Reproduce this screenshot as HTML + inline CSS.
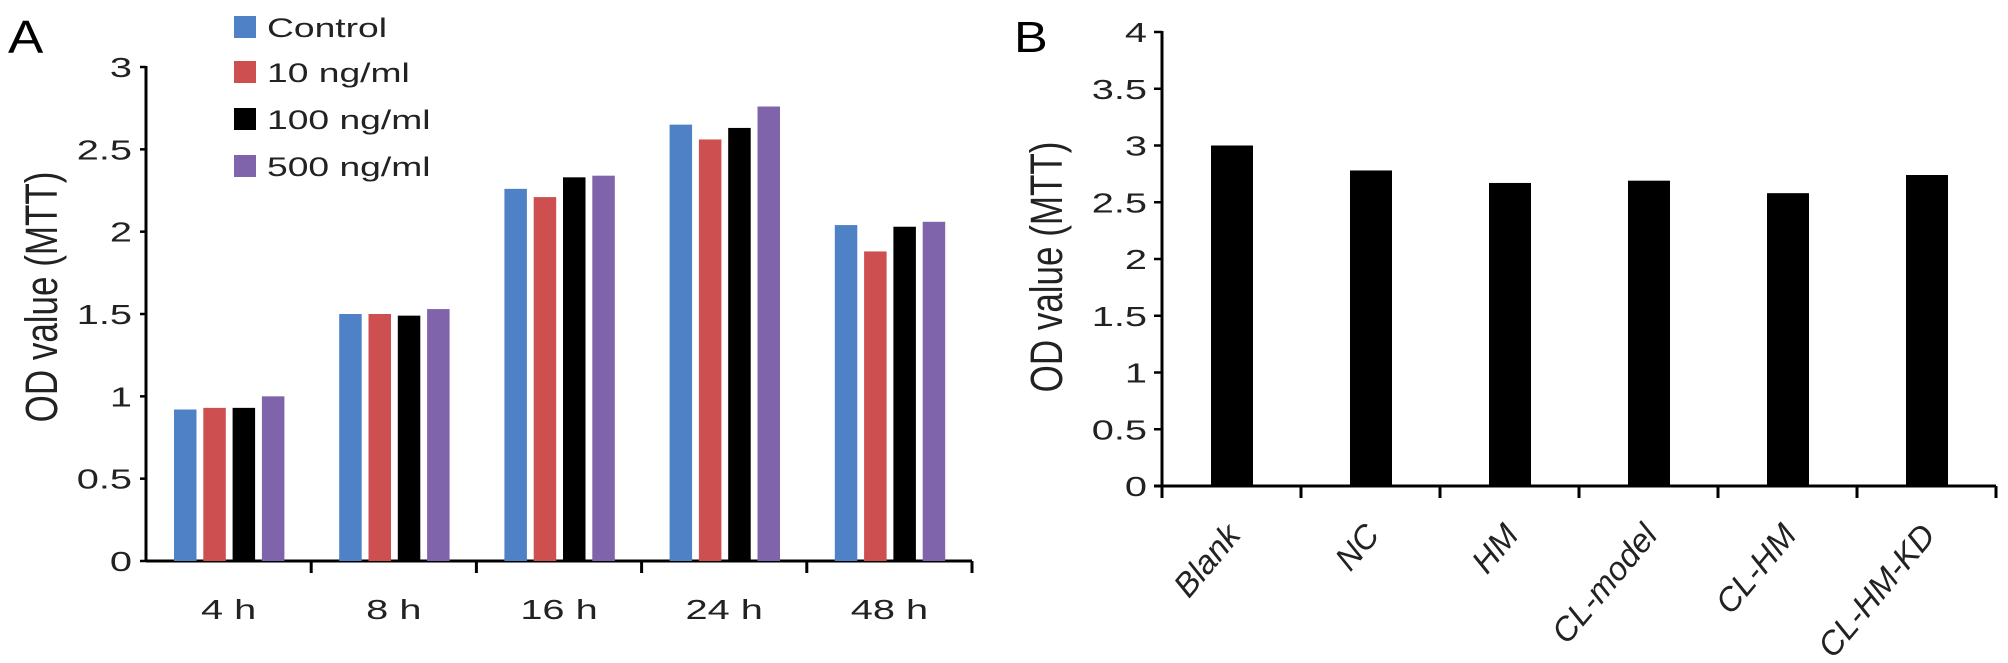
<!DOCTYPE html>
<html><head><meta charset="utf-8"><style>
body{margin:0;background:#fff;}
svg{display:block;font-family:"Liberation Sans",Arial,sans-serif;}
</style></head><body>
<svg id="chart" width="2008" height="663" viewBox="0 0 2008 663" xmlns="http://www.w3.org/2000/svg">
<text transform="translate(8,53) scale(1.15,1)" font-size="46">A</text>
<text transform="translate(1014,52) scale(1.15,1)" font-size="44">B</text>
<text transform="translate(57,297) rotate(-90) scale(1,1.3)" text-anchor="middle" font-size="35" fill="#222">OD value (MTT)</text>
<text transform="translate(1062,267) rotate(-90) scale(1,1.3)" text-anchor="middle" font-size="35" fill="#222">OD value (MTT)</text>
<g id="A"></g><g id="B"></g>
</svg>
<script>
const aCategories=["4 h","8 h","16 h","24 h","48 h"];
const aSeriesNames=["Control","10 ng/ml","100 ng/ml","500 ng/ml"];
const aControl=[0.92,1.50,2.26,2.65,2.04];
const a10=[0.93,1.50,2.21,2.56,1.88];
const a100=[0.93,1.49,2.33,2.63,2.03];
const a500=[1.00,1.53,2.34,2.76,2.06];
const aTicks=[0,0.5,1,1.5,2,2.5,3];
const aTickLabels=["0","0.5","1","1.5","2","2.5","3"];
const bCategories=["Blank","NC","HM","CL-model","CL-HM","CL-HM-KD"];
const bValues=[3.00,2.78,2.67,2.69,2.58,2.74];
const bTicks=[0,0.5,1,1.5,2,2.5,3,3.5,4];
const bTickLabels=["0","0.5","1","1.5","2","2.5","3","3.5","4"];

const NS="http://www.w3.org/2000/svg";
function mk(parent,tag,attrs,text){const e=document.createElementNS(NS,tag);for(const k in attrs)e.setAttribute(k,attrs[k]);if(text!==undefined)e.textContent=text;parent.appendChild(e);return e;}
const colors=["#4f81c7","#cd4f4f","#000000","#8064ab"];
const SX=1.42;

// Panel A
const gA=document.getElementById('A');
const aX0=146,aX1=972,aY0=561,aY3=67;
const ayScale=v=>aY0-(aY0-aY3)*v/3;
const aGroupW=(aX1-aX0)/aCategories.length;
const aSeries=[aControl,a10,a100,a500];
let ax=mk(gA,'line',{x1:aX0,y1:aY3-1,x2:aX0,y2:aY0+1,stroke:'#000','stroke-width':3});

ax=mk(gA,'line',{x1:aX0,y1:aY0,x2:aX1,y2:aY0,stroke:'#000','stroke-width':3});

aTicks.forEach((t,i)=>{
  const y=ayScale(t);
  mk(gA,'line',{x1:aX0-6,y1:y,x2:aX0,y2:y,stroke:'#000','stroke-width':2.5});
  const l=mk(gA,'text',{x:0,y:0,'text-anchor':'end','font-size':28,fill:'#222',transform:'translate('+(aX0-14)+','+(y+10)+') scale('+SX+',1)'},aTickLabels[i]);
  
  
});
aCategories.forEach((c,gi)=>{
  const gx=aX0+gi*aGroupW;
  if(gi>0)mk(gA,'line',{x1:gx,y1:aY0,x2:gx,y2:aY0+12,stroke:'#000','stroke-width':3});
  if(gi===aCategories.length-1)mk(gA,'line',{x1:aX1,y1:aY0,x2:aX1,y2:aY0+12,stroke:'#000','stroke-width':3});
  const l=mk(gA,'text',{x:0,y:0,'text-anchor':'middle','font-size':28,fill:'#222',transform:'translate('+(gx+aGroupW/2)+',619) scale('+SX+',1)'},c);
  
  
  aSeries.forEach((s,si)=>{
    const y=ayScale(s[gi]);
    const r=mk(gA,'rect',{x:gx+28+si*29.3,y:y,width:22.5,height:aY0-y,fill:colors[si]});
    
    
  });
});
const legendY=[27,72,119,166];
aSeriesNames.forEach((n,i)=>{
  const cy=legendY[i];
  const sq=mk(gA,'rect',{x:234,y:cy-11,width:22,height:22,fill:colors[i]});
  
  
  const t=mk(gA,'text',{x:0,y:0,'font-size':27,fill:'#222',transform:'translate(267,'+(cy+10)+') scale(1.38,1)'},n);
  
  
});

// Panel B
const gB=document.getElementById('B');
const bX0=1162,bX1=1996,bY0=486,bY4=32;
const byScale=v=>bY0-(bY0-bY4)*v/4;
const bGroupW=(bX1-bX0)/bCategories.length;
ax=mk(gB,'line',{x1:bX0,y1:bY4-1,x2:bX0,y2:bY0+12,stroke:'#000','stroke-width':3});

ax=mk(gB,'line',{x1:bX0-8,y1:bY0,x2:bX1,y2:bY0,stroke:'#000','stroke-width':3});

bTicks.forEach((t,i)=>{
  const y=byScale(t);
  mk(gB,'line',{x1:bX0-8,y1:y,x2:bX0,y2:y,stroke:'#000','stroke-width':2.5});
  const l=mk(gB,'text',{x:0,y:0,'text-anchor':'end','font-size':28,fill:'#222',transform:'translate('+(bX0-15)+','+(y+10)+') scale('+SX+',1)'},bTickLabels[i]);
  
  
});
bCategories.forEach((c,i)=>{
  const gx=bX0+i*bGroupW;
  if(i>0)mk(gB,'line',{x1:gx,y1:bY0,x2:gx,y2:bY0+12,stroke:'#000','stroke-width':3});
  if(i===bCategories.length-1)mk(gB,'line',{x1:bX1,y1:bY0,x2:bX1,y2:bY0+12,stroke:'#000','stroke-width':3});
  const y=byScale(bValues[i]);
  const r=mk(gB,'rect',{x:gx+49,y:y,width:42,height:bY0-y,fill:'#000'});
  
  
  const cx=gx+70+10;
  const l=mk(gB,'text',{x:0,y:0,'text-anchor':'end','font-size':33,'font-style':'italic',fill:'#222',transform:'translate('+cx+',536) rotate(-50)'},c);
  
  
});
</script>
</body></html>
